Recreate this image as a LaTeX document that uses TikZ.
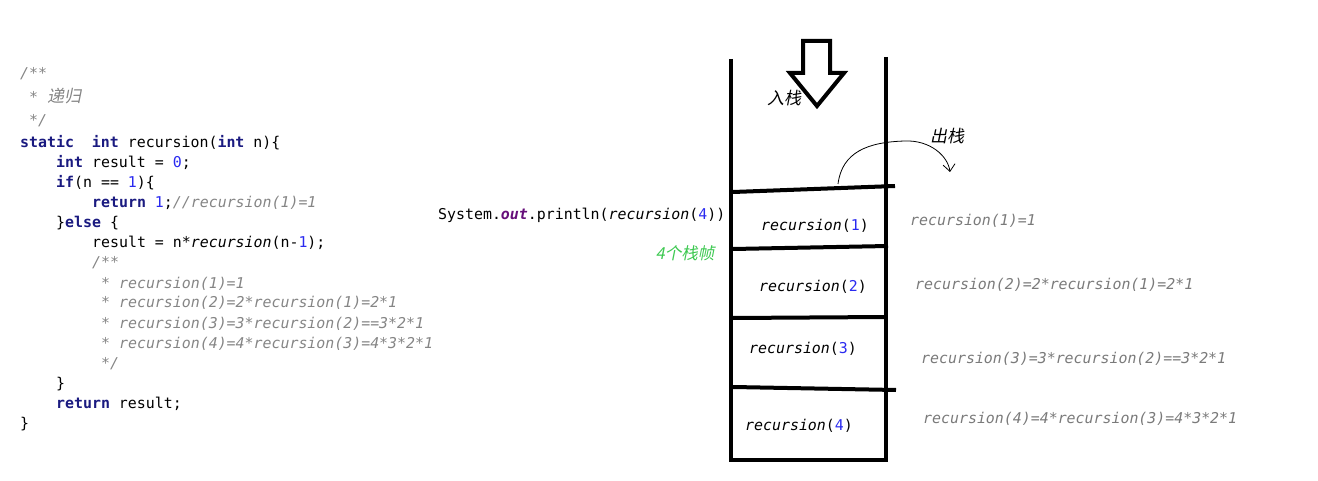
\documentclass[tikz,border=0pt]{standalone}
\usepackage{fontspec}
\setmonofont{DejaVu Sans Mono}
\newfontfamily\cjk{Noto Sans CJK SC}[FakeSlant=0.2]
\usetikzlibrary{arrows.meta}
\definecolor{ckw}{HTML}{1A1A80}
\definecolor{cnum}{HTML}{2A2AF0}
\definecolor{ccmt}{HTML}{858585}
\definecolor{cout}{HTML}{660E7A}
\definecolor{cgreen}{HTML}{3CC850}
\definecolor{cres}{HTML}{7A7A7A}
\newcommand{\codefont}{\fontsize{14.9}{18}\selectfont\ttfamily}
\newcommand{\kw}[1]{\textbf{\textcolor{ckw}{#1}}}
\newcommand{\nm}[1]{\textcolor{cnum}{#1}}
\newcommand{\cmt}[1]{\textcolor{ccmt}{\itshape #1}}
\newcommand{\call}[1]{\textit{#1}}
\tikzset{
  every picture/.style={x=1pt, y=-1pt},
  code/.style={anchor=base west, inner sep=0pt, font=\codefont},
  result/.style={code, text=cres, font=\codefont\itshape},
  wall/.style={line width=4pt, draw=black},
  handtext/.style={inner sep=0pt, font=\cjk\fontsize{17}{20}\selectfont},
}
\begin{document}
\begin{tikzpicture}
  \useasboundingbox (0,0) rectangle (1318,481);
  % code on the left
  \node[code] (cstart) at (20,79) {\cmt{/**}};
  \node[code] (cname) at (20,103) {\cmt{\ * {\cjk\fontsize{17}{18}\selectfont 递归}}};
  \node[code] (cend) at (20,126) {\cmt{\ */}};
  \node[code] (sig) at (20,148) {\kw{static}\ \ \kw{int} recursion(\kw{int} n)\{};
  \node[code] (init) at (56,168) {\kw{int} result = \nm{0};};
  \node[code] (ifn) at (56,188) {\kw{if}(n == \nm{1})\{};
  \node[code] (ret1) at (92,208) {\kw{return} \nm{1};\cmt{//recursion(1)=1}};
  \node[code] (els) at (56,228) {\}\kw{else} \{};
  \node[code] (res) at (92,248) {result = n*\call{recursion}(n-\nm{1});};
  \node[code] (doc0) at (92,268) {\cmt{/**}};
  \node[code] (doc1) at (92,288) {\cmt{\ * recursion(1)=1}};
  \node[code] (doc2) at (92,308) {\cmt{\ * recursion(2)=2*recursion(1)=2*1}};
  \node[code] (doc3) at (92,328) {\cmt{\ * recursion(3)=3*recursion(2)==3*2*1}};
  \node[code] (doc4) at (92,348) {\cmt{\ * recursion(4)=4*recursion(3)=4*3*2*1}};
  \node[code] (docend) at (92,368) {\cmt{\ */}};
  \node[code] (close) at (56,388) {\}};
  \node[code] (retres) at (56,408) {\kw{return} result;};
  \node[code] (brace) at (20,428) {\}};
  \node[code] (call) at (438,220) {System.\textbf{\textit{\textcolor{cout}{out}}}.println(\call{recursion}(\nm{4}))};
  \node[handtext, text=cgreen, font=\cjk\fontsize{16.5}{18}\selectfont] (frames) at (685,253) {4个栈帧};
  % the stack
  \coordinate (tl) at (731,59);
  \coordinate (bl) at (731,462);
  \coordinate (br) at (886,462);
  \coordinate (tr) at (886,57);
  \draw[wall] (tl) -- (bl);
  \draw[wall] (tr) -- (br);
  \draw[wall] (729,460) -- (888,460);
  \draw[wall] (733,192) -- (895,186);
  \draw[wall] (733,249) -- (888,246);
  \draw[wall] (733,318) -- (886,317);
  \draw[wall] (733,387) -- (896,390);
  \draw[wall, line join=miter] (803,41) -- (830,41) -- (830,73) -- (844,73) -- (817,106) -- (790,73) -- (803,73) -- cycle;
  \node[handtext] (push) at (784,98) {入栈};
  \node[handtext] (pop) at (947,136) {出栈};
  \coordinate (popstart) at (838,184);
  \coordinate (popend) at (950,172);
  \draw[line width=0.8pt, -{Straight Barb[length=7pt, width=12pt]}] (popstart) .. controls (842,152) and (868,142) .. (905,141) .. controls (930,140) and (948,156) .. (popend);
  \node[code] (f1) at (761,231) {\call{recursion}(\nm{1})};
  \node[code] (f2) at (759,291) {\call{recursion}(\nm{2})};
  \node[code] (f3) at (749,353) {\call{recursion}(\nm{3})};
  \node[code] (f4) at (745,430) {\call{recursion}(\nm{4})};
  % values returned
  \node[result] (r1) at (910,226) {recursion(1)=1};
  \node[result] (r2) at (915,290) {recursion(2)=2*recursion(1)=2*1};
  \node[result] (r3) at (921,363) {recursion(3)=3*recursion(2)==3*2*1};
  \node[result] (r4) at (923,423) {recursion(4)=4*recursion(3)=4*3*2*1};
\end{tikzpicture}
\end{document}
